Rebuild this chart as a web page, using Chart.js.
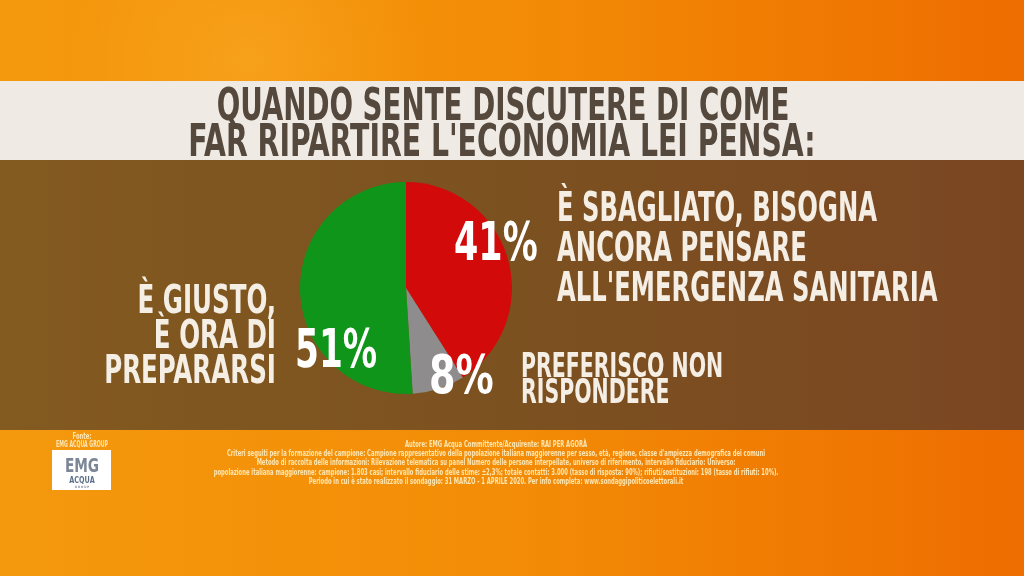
<!DOCTYPE html>
<html>
<head>
<meta charset="utf-8">
<script src="https://cdn.jsdelivr.net/npm/chart.js@4"></script>
<style>
  html, body { margin: 0; padding: 0; background: #f28a06; }
  #wrap { width: 1024px; height: 576px; position: relative; }
</style>
</head>
<body>
<div id="wrap"><canvas id="pieChart" width="1024" height="576"></canvas></div>
<script>
// dati del sondaggio
const categories = ["È sbagliato, bisogna ancora pensare all'emergenza sanitaria", "Preferisco non rispondere", "È giusto, è ora di prepararsi"];
const values = [41, 8, 51];
const colors = ['#d20a0a', '#8e8c8c', '#0f961a'];

const titleLines = ["QUANDO SENTE DISCUTERE DI COME", "FAR RIPARTIRE L'ECONOMIA LEI PENSA:"];
const labelLines = [
  ["È SBAGLIATO, BISOGNA", "ANCORA PENSARE", "ALL'EMERGENZA SANITARIA"],
  ["PREFERISCO NON", "RISPONDERE"],
  ["È GIUSTO,", "È ORA DI", "PREPARARSI"]
];
const footerLines = [
  "Autore: EMG Acqua Committente/Acquirente: RAI PER AGORÀ",
  "Criteri seguiti per la formazione del campione: Campione rappresentativo della popolazione italiana maggiorenne per sesso, età, regione, classe d'ampiezza demografica dei comuni",
  "Metodo di raccolta delle informazioni: Rilevazione telematica su panel Numero delle persone interpellate, universo di riferimento, intervallo fiduciario: Universo:",
  "popolazione italiana maggiorenne: campione: 1.803 casi; intervallo fiduciario delle stime: ±2,3%; totale contatti: 3.000 (tasso di risposta: 90%); rifiuti/sostituzioni: 198 (tasso di rifiuti: 10%).",
  "Periodo in cui è stato realizzato il sondaggio: 31 MARZO - 1 APRILE 2020. Per info completa: www.sondaggipoliticoelettorali.it"
];

const FONT = '"DejaVu Sans Condensed", "DejaVu Sans", sans-serif';

// testo condensato (scala orizzontale)
function txt(ctx, s, x, y, size, align, color, sx) {
  sx = sx || 0.7;
  ctx.save();
  ctx.font = 'bold ' + size + 'px ' + FONT;
  ctx.fillStyle = color;
  ctx.textBaseline = 'alphabetic';
  ctx.textAlign = align;
  ctx.translate(x, y);
  ctx.scale(sx, 1);
  ctx.fillText(s, 0, 0);
  ctx.restore();
}

const sfondo = {
  id: 'sfondo',
  beforeDraw(chart) {
    const ctx = chart.ctx;
    ctx.save();
    let g = ctx.createLinearGradient(0, 0, 1024, 0);
    g.addColorStop(0, '#f4990e');
    g.addColorStop(0.5, '#f38c06');
    g.addColorStop(1, '#ee6d00');
    ctx.fillStyle = g;
    ctx.fillRect(0, 0, 1024, 576);
    // riflesso chiaro
    let r = ctx.createRadialGradient(250, 60, 5, 250, 60, 180);
    r.addColorStop(0, 'rgba(255,190,60,0.3)');
    r.addColorStop(1, 'rgba(255,190,60,0)');
    ctx.fillStyle = r;
    ctx.fillRect(0, 0, 1024, 576);
    // fascia chiara del titolo
    ctx.fillStyle = '#efebe4';
    ctx.fillRect(0, 81, 1024, 79);
    // fascia marrone
    let b = ctx.createLinearGradient(0, 0, 1024, 0);
    b.addColorStop(0, '#835a20');
    b.addColorStop(0.5, '#7c5120');
    b.addColorStop(1, '#7a4622');
    ctx.fillStyle = b;
    ctx.fillRect(0, 160, 1024, 270);
    ctx.restore();
  },
  afterDraw(chart) {
    const ctx = chart.ctx;
    const light = '#f4eee4';
    txt(ctx, titleLines[0], 503, 120, 44, 'center', '#55483c', 0.7);
    txt(ctx, titleLines[1], 502, 156, 44, 'center', '#55483c', 0.715);

    labelLines[0].forEach((s, i) => txt(ctx, s, 557, 221 + i * 40, 40, 'left', light, 0.675));
    labelLines[1].forEach((s, i) => txt(ctx, s, 521, 377 + i * 26, 33, 'left', light, 0.69));
    labelLines[2].forEach((s, i) => txt(ctx, s, 276, 313 + i * 35, 39, 'right', light, 0.7));

    txt(ctx, values[0] + '%', 454, 260, 54, 'left', '#ffffff', 0.72);
    txt(ctx, values[1] + '%', 429, 393, 53, 'left', '#ffffff', 0.8);
    txt(ctx, values[2] + '%', 295, 367, 53, 'left', '#ffffff', 0.72);

    // piè di pagina
    footerLines.forEach((s, i) => txt(ctx, s, 496, 447 + i * 9.2, 8, 'center', '#fde6b2', 0.73));
    txt(ctx, 'Fonte:', 82, 439, 9, 'center', '#fde6b2', 0.65);
    txt(ctx, 'EMG ACQUA GROUP', 82, 447, 8, 'center', '#fde6b2', 0.65);

    // logo
    ctx.save();
    ctx.fillStyle = '#ffffff';
    ctx.fillRect(52, 450, 59, 40);
    ctx.restore();
    txt(ctx, 'EMG', 82, 472, 19, 'center', '#7b8796', 0.8);
    txt(ctx, 'ACQUA', 82, 483, 9, 'center', '#5b6f88', 0.8);
    txt(ctx, 'G R O U P', 82, 488, 3, 'center', '#7b8796', 1);
  }
};

const ctx = document.getElementById('pieChart');
new Chart(ctx, {
  type: 'pie',
  data: {
    labels: categories,
    datasets: [
      {
        data: values,
        backgroundColor: colors,
        borderWidth: 0,
      },
    ]
  },
  options: {
    responsive: false,
    animation: false,
    layout: {
      padding: { left: 300, right: 512, top: 182, bottom: 182 }
    },
    plugins: {
      legend: { display: false },
      tooltip: { enabled: false },
      title: { display: false }
    }
  },
  plugins: [sfondo]
});
</script>
</body>
</html>
